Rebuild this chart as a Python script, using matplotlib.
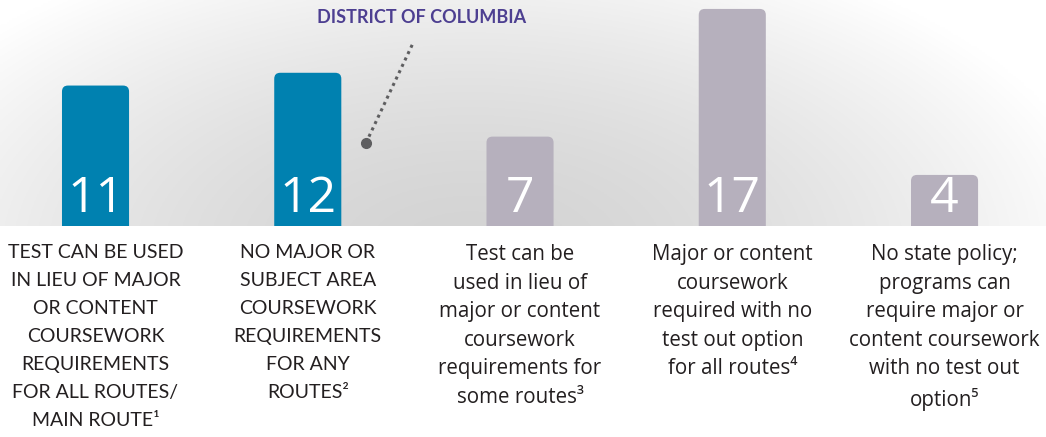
import numpy as np
import matplotlib.pyplot as plt
from matplotlib.patches import FancyBboxPatch

values = [11, 12, 7, 17, 4]
labels = [
    "TEST CAN BE USED\nIN LIEU OF MAJOR\nOR CONTENT\nCOURSEWORK\nREQUIREMENTS\nFOR ALL ROUTES/\nMAIN ROUTE\u00b9",
    "NO MAJOR OR\nSUBJECT AREA\nCOURSEWORK\nREQUIREMENTS\nFOR ANY\nROUTES\u00b2",
    "Test can be\nused in lieu of\nmajor or content\ncoursework\nrequirements for\nsome routes\u00b3",
    "Major or content\ncoursework\nrequired with no\ntest out option\nfor all routes\u2074",
    "No state policy;\nprograms can\nrequire major or\ncontent coursework\nwith no test out\noption\u2075",
]
colors = ["#0081b0", "#0081b0", "#b6b0bd", "#b6b0bd", "#b6b0bd"]
dc_label = "DISTRICT OF COLUMBIA"

plt.rcParams['font.family'] = ['Lato', 'DejaVu Sans']

W, H = 1046, 437
fig = plt.figure(figsize=(W / 100, H / 100), dpi=100)
base = 226
ax = fig.add_axes([0, (H - base) / H, 1, base / H])

x = np.arange(len(values))
xlim = (-0.45, 4.478)
ylim = (0, 17.7)
ax.set_xlim(*xlim)
ax.set_ylim(*ylim)

# background glow
gx, gy = np.meshgrid(np.linspace(0, W, 400), np.linspace(0, base, 120))
d = np.sqrt(((gx - 470) / 640) ** 2 + ((gy - 250) / 330) ** 2)
g = 0.83 + 0.17 * np.clip(d, 0, 1) ** 1.6
ax.imshow(np.dstack([g, g, g]), extent=(xlim[0], xlim[1], ylim[0], ylim[1]),
          aspect='auto', origin='upper', zorder=0)

# bars with rounded tops
px_x = W / (xlim[1] - xlim[0])
px_y = base / (ylim[1] - ylim[0])
bars = ax.bar(x, values, width=0.316, color=colors, zorder=2)
r = 6 / px_x
for b, c in zip(bars, colors):
    bx, bw, bh = b.get_x(), b.get_width(), b.get_height()
    b.remove()
    ax.add_patch(FancyBboxPatch((bx + r, -2), bw - 2 * r, bh + 2 - 6 / px_y,
                                boxstyle=f"round,pad={r}", mutation_aspect=px_x / px_y,
                                fc=c, ec='none', zorder=2))

for xi, v in zip(x, values):
    ax.text(xi, 1.1, str(v), color='white', fontsize=36,
            family=['Open Sans', 'DejaVu Sans'],
            ha='center', va='baseline', zorder=3)

# DC callout
ax.plot([1.274, 1.496], [6.5, 14.33], color='#5e5e60', lw=2.2,
        linestyle=(0, (1, 1.3)), zorder=3)
ax.plot([1.274], [6.5], 'o', color='#5e5e60', ms=7, zorder=3)
ax.text(1.534, 16.3, dc_label, color='#4d3f91', fontsize=13, fontweight='bold',
        ha='center', va='center')

ax.set_xticks(x, labels)
ax.tick_params(axis='x', length=0, pad=13, labelcolor='#231f20')
for i, t in enumerate(ax.get_xticklabels()):
    if i < 2:
        t.set_fontsize(14)
        t.set_family(['Lato', 'DejaVu Sans'])
        t.set_linespacing(1.78)
    else:
        t.set_fontsize(14.8)
        t.set_family(['Open Sans', 'DejaVu Sans'])
        t.set_linespacing(1.47)
ax.set_yticks([])
for s in ax.spines.values():
    s.set_visible(False)

fig.savefig('out.png', dpi=100)
